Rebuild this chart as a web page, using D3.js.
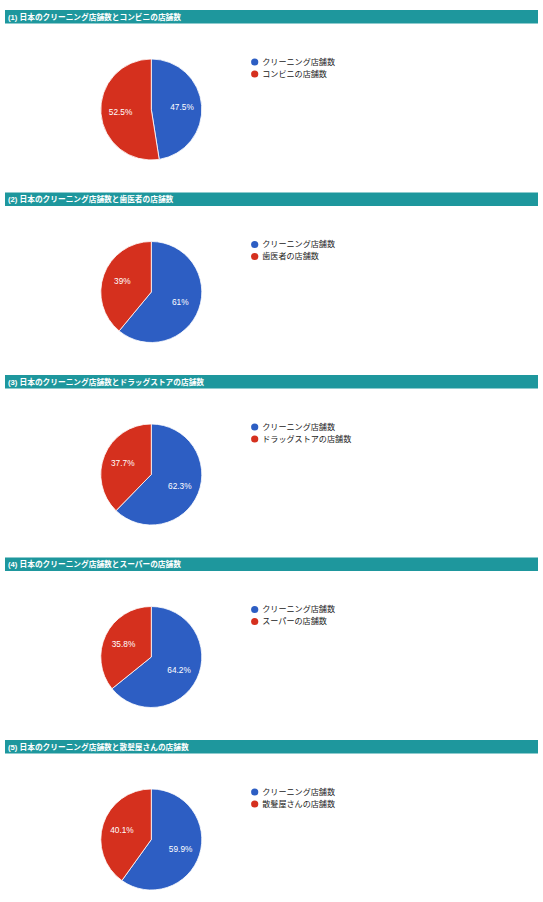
<!DOCTYPE html>
<html>
<head>
<meta charset="utf-8">
<script src="https://cdn.jsdelivr.net/npm/d3@7"></script>
<style>
  body { margin: 0; background: #fff; }
  svg { display: block; font-family: "Liberation Sans", Arial, "Noto Sans CJK JP", sans-serif; }
</style>
</head>
<body>
<div id="chart"></div>
<script>
// chart titles
const titles = [
  "(1) 日本のクリーニング店舗数とコンビニの店舗数",
  "(2) 日本のクリーニング店舗数と歯医者の店舗数",
  "(3) 日本のクリーニング店舗数とドラッグストアの店舗数",
  "(4) 日本のクリーニング店舗数とスーパーの店舗数",
  "(5) 日本のクリーニング店舗数と散髪屋さんの店舗数"
];

// first slice is always cleaning shops
const cleaningLabel = "クリーニング店舗数";
const otherLabels = ["コンビニの店舗数", "歯医者の店舗数", "ドラッグストアの店舗数", "スーパーの店舗数", "散髪屋さんの店舗数"];

// percentages
const cleaningShare = [47.5, 61, 62.3, 64.2, 59.9];
const otherShare = [52.5, 39, 37.7, 35.8, 40.1];

const colors = ["#2d5ec3", "#d5301e"];

const width = 543;
const height = 902;
const sectionGap = 182.5;
const radius = 50.5;

const svg = d3.select("#chart")
  .append("svg")
  .attr("width", width)
  .attr("height", height);

const pie = d3.pie().sort(null).value(d => d.value);
const arc = d3.arc().innerRadius(0).outerRadius(radius);
const labelArc = d3.arc().innerRadius(radius * 0.61).outerRadius(radius * 0.61);

titles.forEach((title, i) => {
  const top = 10 + i * sectionGap;
  const g = svg.append("g").attr("transform", `translate(0,${top})`);

  // title bar
  g.append("rect")
    .attr("x", 5)
    .attr("y", 0)
    .attr("width", 533)
    .attr("height", 13.5)
    .attr("fill", "#1e979d");

  g.append("text")
    .attr("x", 8)
    .attr("y", 9.6)
    .attr("fill", "#fff")
    .attr("font-size", "7.7px")
    .attr("font-weight", "bold")
    .text(title);

  const data = [
    { name: cleaningLabel, value: cleaningShare[i] },
    { name: otherLabels[i], value: otherShare[i] }
  ];

  const pieG = g.append("g").attr("transform", `translate(151.3,${99.5})`);

  const slices = pie(data);

  pieG.selectAll("path")
    .data(slices)
    .enter()
    .append("path")
    .attr("d", arc)
    .attr("fill", (d, j) => colors[j])
    .attr("stroke", "#fff")
    .attr("stroke-width", 0.8);

  pieG.selectAll("text")
    .data(slices)
    .enter()
    .append("text")
    .attr("transform", d => `translate(${labelArc.centroid(d)})`)
    .attr("text-anchor", "middle")
    .attr("dy", "0.35em")
    .attr("fill", "#fff")
    .attr("font-size", "8.3px")
    .text(d => d.data.value + "%");

  // legend
  const legend = g.selectAll(".legend")
    .data(data)
    .enter()
    .append("g")
    .attr("transform", (d, j) => `translate(254.7,${52 + j * 12})`);

  legend.append("circle")
    .attr("r", 3.6)
    .attr("fill", (d, j) => colors[j]);

  legend.append("text")
    .attr("x", 7.5)
    .attr("dy", "0.35em")
    .attr("fill", "#222")
    .attr("font-size", "8.1px")
    .text(d => d.name);
});
</script>
</body>
</html>
